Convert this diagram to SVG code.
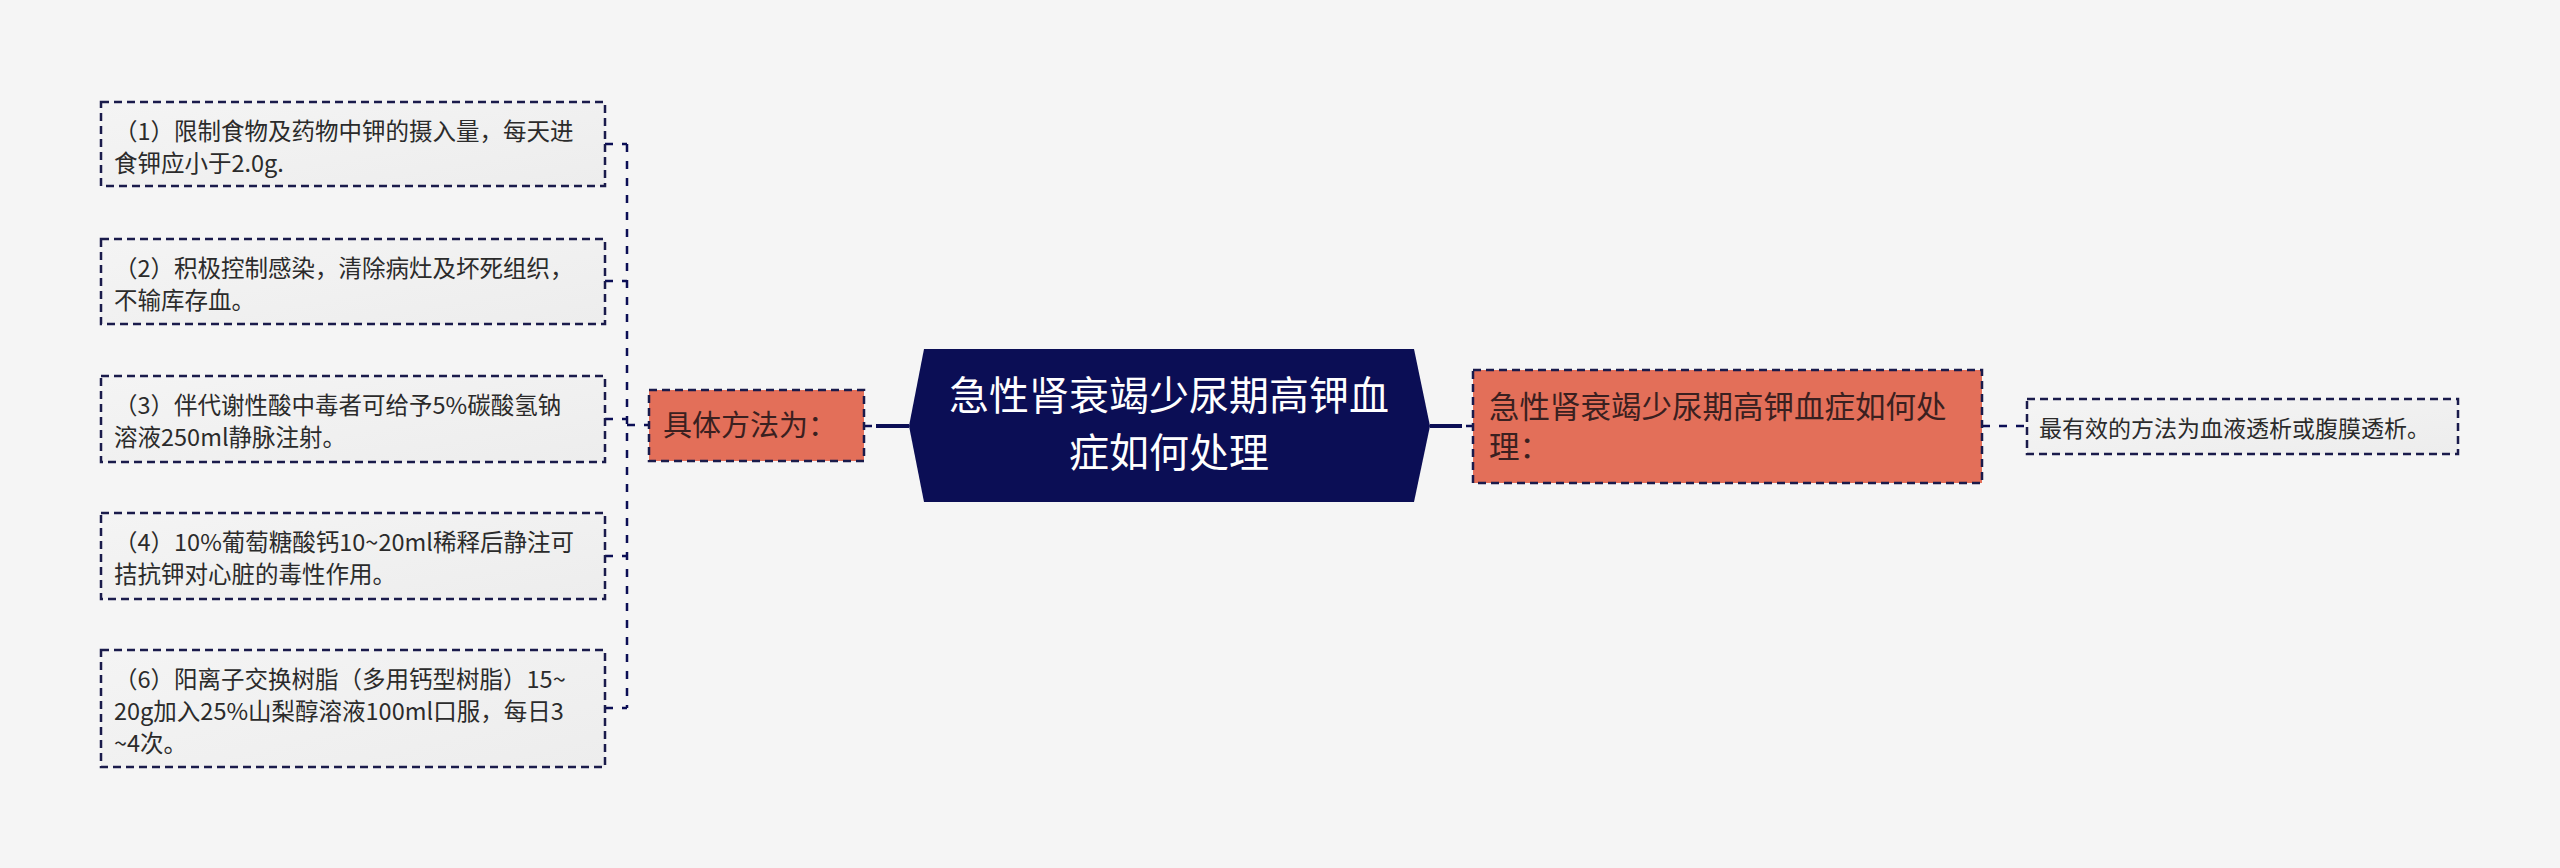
<svg xmlns="http://www.w3.org/2000/svg" width="2560" height="868" viewBox="0 0 2560 868">
<defs>
<linearGradient id="lg" x1="0" y1="0" x2="1" y2="1">
<stop offset="0" stop-color="#F4F4F4"/>
<stop offset="1" stop-color="#EDEDED"/>
</linearGradient>
<style>
.leaf rect{fill:url(#lg);stroke:#1A1B4B;stroke-width:2.5;stroke-dasharray:8 5;}
.leaf text{font-family:"Noto Sans CJK SC","Liberation Sans",sans-serif;font-size:23.5px;fill:#2B2B2B;}
.sub rect{fill:#E36F59;stroke:#1A1B4B;stroke-width:2.5;stroke-dasharray:8 5;}
.sub text{font-family:"Noto Sans CJK SC","Liberation Sans",sans-serif;fill:#3A2020;}
.root polygon{fill:#0B0E55;}
.root text{font-family:"Noto Sans CJK SC","Liberation Sans",sans-serif;font-size:40px;fill:#FFFFFF;text-anchor:middle;}
.dash{stroke:#0B0E55;stroke-width:2.5;fill:none;stroke-dasharray:8 9;}
.solid{stroke:#0B0E55;stroke-width:4;fill:none;}
</style>
</defs>
<rect x="0" y="0" width="2560" height="868" fill="#F5F5F5"/>

<g id="connectors">
<path class="dash" d="M605 144 H627 M605 281 H627 M605 419 H627 M605 556 H627 M605 708 H627 M627 144 V708 M627 425 H649"/>
<path class="dash" d="M864 426 H876"/>
<path class="solid" d="M876 426 H909 M1430 426 H1462"/>
<path class="dash" d="M1466 426 H1473"/>
<path class="dash" d="M1982 426 H2027"/>
</g>

<g id="root" class="root">
<polygon points="909,426 924,349 1414,349 1430,426 1414,502 924,502"/>
<text x="1169" y="410">急性肾衰竭少尿期高钾血</text>
<text x="1169" y="467">症如何处理</text>
</g>

<g id="methods" class="sub">
<rect x="649" y="390" width="215" height="71"/>
<text x="663" y="436" font-size="29">具体方法为：</text>
</g>

<g id="question" class="sub">
<rect x="1473" y="370" width="509" height="113"/>
<text x="1489" y="418" font-size="30.5">急性肾衰竭少尿期高钾血症如何处</text>
<text x="1489" y="458" font-size="30.5">理：</text>
</g>

<g id="answer" class="leaf">
<rect x="2027" y="399" width="431" height="55"/>
<text x="2039" y="437" style="font-size:23px">最有效的方法为血液透析或腹膜透析。</text>
</g>

<g id="m1" class="leaf">
<rect x="101" y="102" width="504" height="84"/>
<text x="114" y="140">（1）限制食物及药物中钾的摄入量，每天进</text>
<text x="114" y="172">食钾应小于2.0g.</text>
</g>

<g id="m2" class="leaf">
<rect x="101" y="239" width="504" height="85"/>
<text x="114" y="277">（2）积极控制感染，清除病灶及坏死组织，</text>
<text x="114" y="309">不输库存血。</text>
</g>

<g id="m3" class="leaf">
<rect x="101" y="376" width="504" height="86"/>
<text x="114" y="414">（3）伴代谢性酸中毒者可给予5%碳酸氢钠</text>
<text x="114" y="446">溶液250ml静脉注射。</text>
</g>

<g id="m4" class="leaf">
<rect x="101" y="513" width="504" height="86"/>
<text x="114" y="551">（4）10%葡萄糖酸钙10~20ml稀释后静注可</text>
<text x="114" y="583">拮抗钾对心脏的毒性作用。</text>
</g>

<g id="m6" class="leaf">
<rect x="101" y="650" width="504" height="117"/>
<text x="114" y="688">（6）阳离子交换树脂（多用钙型树脂）15~</text>
<text x="114" y="720">20g加入25%山梨醇溶液100ml口服，每日3</text>
<text x="114" y="752">~4次。</text>
</g>
</svg>
